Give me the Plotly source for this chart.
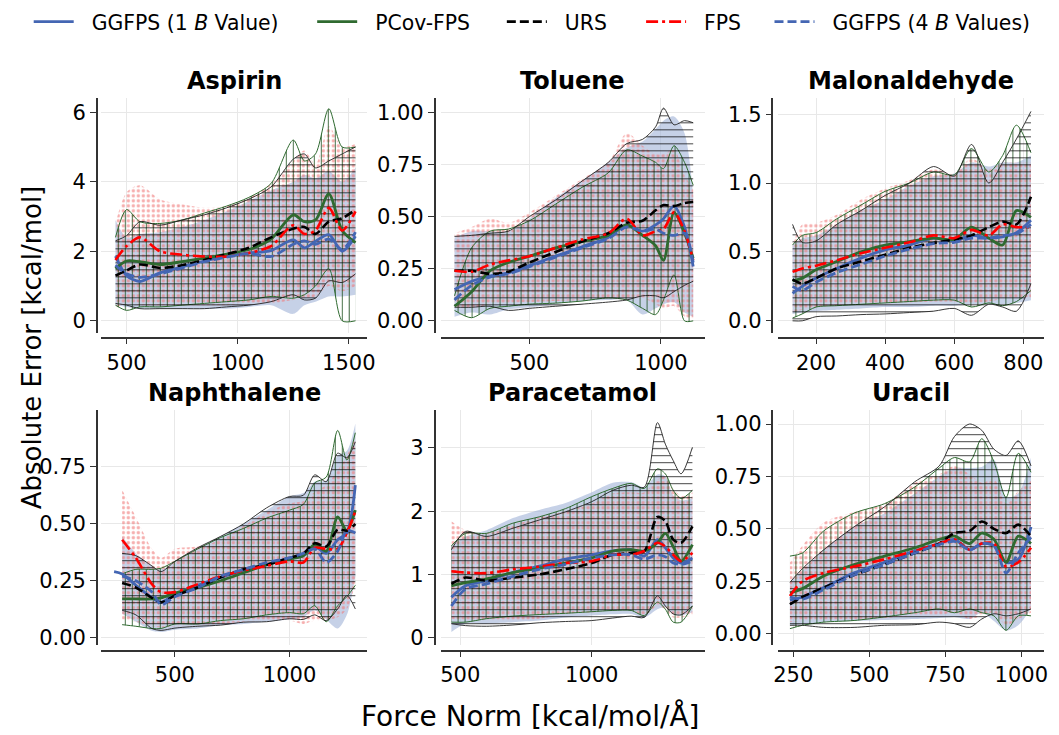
import plotly.graph_objects as go

# ---------------- data ----------------
ASP_X = [450, 500, 560, 650, 750, 850, 950, 1050, 1150, 1250, 1300, 1350, 1410, 1470, 1530]
ASP_GG1 = [1.86, 1.3, 1.13, 1.38, 1.55, 1.72, 1.85, 1.95, 2.02, 2.33, 2.1, 2.29, 2.48, 2.0, 2.43]
ASP_GG4 = [1.6, 1.35, 1.25, 1.35, 1.52, 1.7, 1.83, 1.93, 1.85, 2.2, 2.3, 2.2, 2.35, 2.05, 2.55]
ASP_PCOV = [1.5, 1.72, 1.7, 1.62, 1.7, 1.8, 1.92, 2.05, 2.35, 3.05, 2.85, 2.9, 3.65, 2.6, 2.25]
ASP_URS = [1.3, 1.45, 1.62, 1.52, 1.6, 1.75, 1.92, 2.1, 2.4, 2.65, 2.7, 2.5, 2.85, 2.95, 3.2]
ASP_FPS = [1.75, 2.15, 2.4, 2.0, 1.9, 1.85, 1.85, 1.95, 2.15, 2.75, 2.5, 2.6, 3.25, 2.6, 3.15]
ASP_GG1_HI = [2.9, 2.4, 2.5, 2.55, 2.7, 2.9, 3.15, 3.45, 3.75, 4.0, 4.2, 4.1, 4.3, 4.0, 4.4]
ASP_GG1_LO = [0.45, 0.4, 0.35, 0.35, 0.35, 0.35, 0.35, 0.4, 0.45, 0.2, 0.45, 0.55, 0.7, 0.7, 0.75]
ASP_FPS_HI = [2.8, 3.7, 3.9, 3.5, 3.35, 3.25, 3.3, 3.55, 3.95, 4.6, 4.9, 4.5, 5.6, 5.0, 5.1]
ASP_FPS_LO = [0.35, 0.5, 0.45, 0.45, 0.45, 0.45, 0.45, 0.5, 0.5, 0.6, 0.65, 0.7, 1.0, 0.85, 1.0]
ASP_PCOV_HI = [2.4, 3.2, 2.85, 2.8, 2.9, 3.1, 3.3, 3.55, 3.95, 5.2, 4.6, 4.8, 6.1, 5.0, 5.0]
ASP_PCOV_LO = [0.45, 0.3, 0.4, 0.4, 0.45, 0.5, 0.55, 0.6, 0.7, 0.65, 0.75, 1.0, 1.5, 0.0, 0.0]
ASP_URS_HI = [2.3, 2.45, 2.85, 2.75, 2.9, 3.05, 3.25, 3.5, 3.85, 4.65, 4.8, 4.4, 4.6, 4.8, 5.0]
ASP_URS_LO = [0.5, 0.45, 0.35, 0.35, 0.35, 0.35, 0.4, 0.45, 0.55, 0.75, 0.6, 0.65, 1.15, 1.1, 1.35]

TOL_X = [215, 280, 350, 420, 500, 600, 700, 800, 870, 930, 980, 1010, 1050, 1090, 1123]
TOL_GG1 = [0.15, 0.19, 0.215, 0.23, 0.265, 0.31, 0.355, 0.4, 0.46, 0.43, 0.46, 0.49, 0.55, 0.45, 0.26]
TOL_GG4 = [0.1, 0.17, 0.21, 0.225, 0.26, 0.305, 0.35, 0.395, 0.45, 0.43, 0.44, 0.42, 0.41, 0.42, 0.28]
TOL_PCOV = [0.07, 0.14, 0.24, 0.28, 0.31, 0.35, 0.38, 0.41, 0.46, 0.41, 0.36, 0.29, 0.52, 0.42, 0.3]
TOL_URS = [0.24, 0.24, 0.225, 0.235, 0.28, 0.33, 0.38, 0.42, 0.47, 0.48, 0.53, 0.555, 0.55, 0.565, 0.57]
TOL_FPS = [0.24, 0.235, 0.27, 0.29, 0.31, 0.35, 0.39, 0.42, 0.49, 0.41, 0.43, 0.44, 0.52, 0.43, 0.29]
TOL_GG1_HI = [0.4, 0.43, 0.43, 0.43, 0.49, 0.59, 0.67, 0.76, 0.83, 0.86, 0.92, 0.96, 0.98, 0.9, 0.6]
TOL_GG1_LO = [0.02, 0.04, 0.03, 0.055, 0.065, 0.08, 0.095, 0.1, 0.1, 0.03, 0.06, 0.08, 0.09, 0.04, 0.02]
TOL_FPS_HI = [0.42, 0.45, 0.49, 0.47, 0.52, 0.6, 0.68, 0.76, 0.9, 0.84, 0.8, 0.8, 0.82, 0.7, 0.63]
TOL_FPS_LO = [0.06, 0.06, 0.08, 0.085, 0.09, 0.095, 0.1, 0.11, 0.1, 0.11, 0.08, 0.06, 0.07, 0.02, 0.01]
TOL_PCOV_HI = [0.12, 0.35, 0.43, 0.44, 0.48, 0.56, 0.64, 0.71, 0.82, 0.79, 0.76, 0.73, 0.84, 0.76, 0.65]
TOL_PCOV_LO = [0.05, 0.015, 0.06, 0.07, 0.08, 0.085, 0.095, 0.11, 0.1, 0.06, 0.03, 0.1, 0.22, 0.0, 0.0]
TOL_URS_HI = [0.405, 0.41, 0.42, 0.43, 0.5, 0.58, 0.67, 0.76, 0.85, 0.87, 0.93, 1.02, 0.94, 0.96, 0.95]
TOL_URS_LO = [0.065, 0.065, 0.07, 0.05, 0.06, 0.07, 0.08, 0.09, 0.1, 0.12, 0.12, 0.11, 0.14, 0.17, 0.19]

MAL_X = [132, 160, 200, 260, 330, 400, 470, 540, 600, 650, 700, 740, 780, 822]
MAL_GG1 = [0.2, 0.25, 0.31, 0.38, 0.455, 0.515, 0.55, 0.6, 0.58, 0.62, 0.6, 0.61, 0.64, 0.73]
MAL_GG4 = [0.25, 0.22, 0.28, 0.35, 0.41, 0.47, 0.52, 0.56, 0.57, 0.6, 0.6, 0.62, 0.63, 0.7]
MAL_PCOV = [0.29, 0.31, 0.37, 0.43, 0.5, 0.55, 0.575, 0.6, 0.59, 0.68, 0.6, 0.55, 0.8, 0.75]
MAL_URS = [0.3, 0.27, 0.31, 0.38, 0.43, 0.48, 0.53, 0.565, 0.59, 0.62, 0.68, 0.72, 0.7, 0.9]
MAL_FPS = [0.355, 0.38, 0.4, 0.44, 0.49, 0.53, 0.57, 0.62, 0.6, 0.66, 0.62, 0.7, 0.68, 0.68]
MAL_GG1_HI = [0.55, 0.6, 0.62, 0.7, 0.8, 0.88, 0.98, 1.05, 1.07, 1.15, 1.12, 1.15, 1.15, 1.2]
MAL_GG1_LO = [0.05, 0.06, 0.07, 0.08, 0.09, 0.1, 0.1, 0.11, 0.11, 0.12, 0.12, 0.12, 0.13, 0.15]
MAL_FPS_HI = [0.55, 0.7, 0.71, 0.77, 0.88, 0.96, 1.02, 1.1, 1.07, 1.18, 1.1, 1.15, 1.15, 1.15]
MAL_FPS_LO = [0.06, 0.08, 0.1, 0.11, 0.12, 0.12, 0.13, 0.14, 0.14, 0.13, 0.14, 0.16, 0.17, 0.17]
MAL_PCOV_HI = [0.55, 0.62, 0.64, 0.74, 0.84, 0.94, 1.0, 1.08, 1.06, 1.25, 1.08, 1.2, 1.42, 1.22]
MAL_PCOV_LO = [0.02, 0.05, 0.1, 0.11, 0.12, 0.13, 0.14, 0.15, 0.15, 0.1, 0.13, 0.11, 0.14, 0.22]
MAL_URS_HI = [0.7, 0.57, 0.58, 0.7, 0.8, 0.91, 1.0, 1.12, 1.05, 1.28, 1.0, 1.15, 1.32, 1.52]
MAL_URS_LO = [0.0, 0.0, 0.03, 0.035, 0.045, 0.05, 0.06, 0.07, 0.09, 0.04, 0.12, 0.1, 0.07, 0.27]

NAP_X = [235, 270, 330, 400, 440, 500, 600, 700, 800, 900, 1000, 1060, 1110, 1160, 1210, 1250, 1287]
NAP_GG1 = [0.29, 0.28, 0.23, 0.175, 0.155, 0.19, 0.23, 0.265, 0.295, 0.32, 0.35, 0.36, 0.4, 0.37, 0.43, 0.46, 0.67]
NAP_GG4 = [None, 0.27, 0.25, 0.2, 0.145, 0.18, 0.22, 0.27, 0.3, 0.33, 0.35, 0.37, 0.39, 0.33, 0.38, 0.47, 0.46]
NAP_PCOV = [None, 0.17, 0.17, 0.17, 0.175, 0.195, 0.22, 0.25, 0.285, 0.32, 0.345, 0.36, 0.41, 0.38, 0.53, 0.47, 0.56]
NAP_URS = [None, 0.24, 0.22, 0.175, 0.155, 0.185, 0.22, 0.265, 0.3, 0.32, 0.35, 0.37, 0.415, 0.4, 0.475, 0.47, 0.5]
NAP_FPS = [None, 0.43, 0.35, 0.235, 0.2, 0.2, 0.235, 0.27, 0.295, 0.315, 0.335, 0.33, 0.395, 0.39, 0.39, 0.46, 0.555]
NAP_GG1_HI = [None, 0.445, 0.37, 0.315, 0.3, 0.33, 0.39, 0.445, 0.5, 0.56, 0.62, 0.635, 0.685, 0.69, 0.8, 0.82, 0.94]
NAP_GG1_LO = [None, 0.105, 0.07, 0.03, 0.025, 0.035, 0.04, 0.055, 0.06, 0.07, 0.08, 0.09, 0.12, 0.08, 0.04, 0.1, 0.27]
NAP_FPS_HI = [None, 0.65, 0.53, 0.39, 0.35, 0.39, 0.4, 0.43, 0.49, 0.55, 0.59, 0.6, 0.64, 0.67, 0.735, 0.8, 0.88]
NAP_FPS_LO = [None, 0.08, 0.07, 0.05, 0.045, 0.05, 0.05, 0.06, 0.07, 0.075, 0.075, 0.06, 0.075, 0.075, 0.09, 0.125, 0.24]
NAP_PCOV_HI = [None, 0.28, 0.3, 0.3, 0.305, 0.335, 0.39, 0.44, 0.48, 0.525, 0.56, 0.585, 0.68, 0.705, 0.91, 0.78, 0.9]
NAP_PCOV_LO = [None, 0.057, 0.05, 0.04, 0.04, 0.06, 0.06, 0.075, 0.083, 0.1, 0.11, 0.105, 0.14, 0.07, 0.14, 0.18, 0.23]
NAP_URS_HI = [None, 0.37, 0.36, 0.315, 0.29, 0.335, 0.395, 0.445, 0.5, 0.57, 0.62, 0.625, 0.715, 0.685, 0.81, 0.79, 0.86]
NAP_URS_LO = [None, 0.12, 0.1, 0.04, 0.032, 0.042, 0.05, 0.055, 0.068, 0.07, 0.083, 0.08, 0.1, 0.075, 0.126, 0.185, 0.126]

PAR_X = [466, 520, 600, 700, 800, 900, 1000, 1080, 1150, 1200, 1250, 1280, 1310, 1340, 1383]
PAR_GG1 = [0.64, 0.82, 0.9, 1.03, 1.13, 1.24, 1.31, 1.37, 1.39, 1.29, 1.55, 1.42, 1.26, 1.18, 1.26]
PAR_GG4 = [0.5, 0.77, 0.85, 0.97, 1.08, 1.16, 1.26, 1.31, 1.31, 1.24, 1.31, 1.28, 1.18, 1.16, 1.21]
PAR_PCOV = [0.82, 0.87, 0.93, 1.03, 1.1, 1.18, 1.26, 1.37, 1.39, 1.37, 1.5, 1.65, 1.44, 1.21, 1.47]
PAR_URS = [0.85, 0.95, 0.9, 0.95, 1.0, 1.08, 1.18, 1.31, 1.34, 1.37, 1.91, 1.84, 1.55, 1.5, 1.76]
PAR_FPS = [1.05, 1.03, 1.02, 1.08, 1.12, 1.18, 1.21, 1.31, 1.31, 1.37, 1.5, 1.44, 1.31, 1.21, 1.34]
PAR_GG1_HI = [1.45, 1.6, 1.7, 1.89, 2.02, 2.13, 2.3, 2.45, 2.46, 2.38, 2.58, 2.55, 2.25, 2.17, 2.2]
PAR_GG1_LO = [0.09, 0.22, 0.22, 0.245, 0.27, 0.32, 0.35, 0.37, 0.375, 0.32, 0.45, 0.48, 0.37, 0.35, 0.4]
PAR_FPS_HI = [1.84, 1.7, 1.65, 1.78, 1.9, 2.0, 2.12, 2.28, 2.3, 2.3, 2.5, 2.55, 2.35, 2.25, 2.3]
PAR_FPS_LO = [0.3, 0.27, 0.27, 0.27, 0.3, 0.375, 0.4, 0.43, 0.43, 0.35, 0.5, 0.45, 0.32, 0.32, 0.35]
PAR_PCOV_HI = [1.45, 1.65, 1.65, 1.81, 1.91, 2.04, 2.23, 2.36, 2.44, 2.36, 2.67, 2.59, 2.33, 2.2, 2.33]
PAR_PCOV_LO = [0.245, 0.245, 0.3, 0.34, 0.365, 0.385, 0.41, 0.43, 0.43, 0.35, 0.56, 0.45, 0.245, 0.245, 0.5]
PAR_URS_HI = [1.39, 1.68, 1.6, 1.73, 1.86, 1.99, 2.15, 2.33, 2.41, 2.38, 3.4, 3.06, 2.8, 2.59, 3.01]
PAR_URS_LO = [0.22, 0.19, 0.18, 0.2, 0.235, 0.255, 0.27, 0.31, 0.34, 0.32, 0.66, 0.5, 0.375, 0.36, 0.5]

URA_X = [239, 280, 350, 450, 550, 650, 730, 780, 830, 870, 910, 950, 990, 1032]
URA_GG1 = [0.16, 0.175, 0.22, 0.29, 0.34, 0.395, 0.43, 0.45, 0.4, 0.43, 0.42, 0.34, 0.355, 0.51]
URA_GG4 = [0.175, 0.165, 0.21, 0.28, 0.33, 0.385, 0.425, 0.44, 0.4, 0.43, 0.42, 0.29, 0.385, 0.46]
URA_PCOV = [0.195, 0.215, 0.275, 0.33, 0.37, 0.41, 0.45, 0.465, 0.43, 0.48, 0.45, 0.34, 0.465, 0.43]
URA_URS = [0.14, 0.175, 0.22, 0.28, 0.33, 0.385, 0.43, 0.48, 0.49, 0.535, 0.5, 0.48, 0.52, 0.465]
URA_FPS = [0.18, 0.25, 0.29, 0.32, 0.355, 0.395, 0.43, 0.45, 0.4, 0.43, 0.43, 0.32, 0.34, 0.41]
URA_GG1_HI = [0.245, 0.3, 0.4, 0.51, 0.575, 0.67, 0.75, 0.79, 0.79, 0.795, 0.83, 0.65, 0.67, 0.84]
URA_GG1_LO = [0.04, 0.045, 0.055, 0.06, 0.065, 0.07, 0.075, 0.08, 0.07, 0.1, 0.06, 0.015, 0.04, 0.12]
URA_FPS_HI = [0.34, 0.42, 0.53, 0.58, 0.62, 0.72, 0.76, 0.8, 0.76, 0.72, 0.74, 0.62, 0.68, 0.73]
URA_FPS_LO = [0.055, 0.06, 0.065, 0.07, 0.075, 0.085, 0.09, 0.1, 0.07, 0.085, 0.1, 0.04, 0.07, 0.1]
URA_PCOV_HI = [0.37, 0.385, 0.49, 0.575, 0.62, 0.7, 0.79, 0.84, 0.82, 0.93, 0.82, 0.65, 0.86, 0.77]
URA_PCOV_LO = [0.024, 0.04, 0.055, 0.063, 0.08, 0.1, 0.118, 0.1, 0.118, 0.1, 0.085, 0.016, 0.085, 0.085]
URA_URS_HI = [0.245, 0.31, 0.4, 0.51, 0.605, 0.725, 0.8, 0.94, 1.0, 0.97, 0.88, 0.85, 0.92, 0.8]
URA_URS_LO = [0.04, 0.04, 0.03, 0.03, 0.04, 0.043, 0.055, 0.048, 0.03, 0.07, 0.095, 0.085, 0.095, 0.118]

TITLES = ["Aspirin", "Toluene", "Malonaldehyde", "Naphthalene", "Paracetamol", "Uracil"]
SERIES_NAMES = ["GGFPS (1 <i>B</i> Value)", "PCov-FPS", "URS", "FPS", "GGFPS (4 <i>B</i> Values)"]
X_TICKS = [[500, 1000, 1500], [500, 1000], [200, 400, 600, 800],
           [500, 1000], [500, 1000], [250, 500, 750, 1000]]
Y_TICKS = [[0, 2, 4, 6], [0, 0.25, 0.5, 0.75, 1.0], [0, 0.5, 1.0, 1.5],
           [0, 0.25, 0.5, 0.75], [0, 1, 2, 3], [0, 0.25, 0.5, 0.75, 1.0]]
Y_FMT = ["d", ".2f", ".1f", ".2f", "d", ".2f"]

PANELS = [
    (ASP_X, ASP_GG1, ASP_GG4, ASP_PCOV, ASP_URS, ASP_FPS, ASP_GG1_LO, ASP_GG1_HI,
     ASP_FPS_LO, ASP_FPS_HI, ASP_PCOV_LO, ASP_PCOV_HI, ASP_URS_LO, ASP_URS_HI),
    (TOL_X, TOL_GG1, TOL_GG4, TOL_PCOV, TOL_URS, TOL_FPS, TOL_GG1_LO, TOL_GG1_HI,
     TOL_FPS_LO, TOL_FPS_HI, TOL_PCOV_LO, TOL_PCOV_HI, TOL_URS_LO, TOL_URS_HI),
    (MAL_X, MAL_GG1, MAL_GG4, MAL_PCOV, MAL_URS, MAL_FPS, MAL_GG1_LO, MAL_GG1_HI,
     MAL_FPS_LO, MAL_FPS_HI, MAL_PCOV_LO, MAL_PCOV_HI, MAL_URS_LO, MAL_URS_HI),
    (NAP_X, NAP_GG1, NAP_GG4, NAP_PCOV, NAP_URS, NAP_FPS, NAP_GG1_LO, NAP_GG1_HI,
     NAP_FPS_LO, NAP_FPS_HI, NAP_PCOV_LO, NAP_PCOV_HI, NAP_URS_LO, NAP_URS_HI),
    (PAR_X, PAR_GG1, PAR_GG4, PAR_PCOV, PAR_URS, PAR_FPS, PAR_GG1_LO, PAR_GG1_HI,
     PAR_FPS_LO, PAR_FPS_HI, PAR_PCOV_LO, PAR_PCOV_HI, PAR_URS_LO, PAR_URS_HI),
    (URA_X, URA_GG1, URA_GG4, URA_PCOV, URA_URS, URA_FPS, URA_GG1_LO, URA_GG1_HI,
     URA_FPS_LO, URA_FPS_HI, URA_PCOV_LO, URA_PCOV_HI, URA_URS_LO, URA_URS_HI),
]

# ---------------- layout geometry ----------------
W, H = 1059, 735
FONT = "DejaVu Sans"
COLS = [(97, 367, 93), (441, 709, 435), (783, 1052, 777)]   # x0, x1, y-axis line px
ROWS = [(99, 335, 340), (413, 649, 655)]                      # y0, y1, x-axis line px (top-down)
X_RANGES = [[384, 1584], [162, 1169], [91, 860], [177, 1340], [425, 1432], [201, 1075]]
Y_RANGES = [[-0.343, 6.4], [-0.057, 1.067], [-0.0865, 1.615], [-0.0305, 0.999],
            [-0.11, 3.597], [-0.052, 1.066]]
TITLE_Y = [82, 396]

BLUE = "#4466b3"
GREEN = "#2f6a30"
RED = "#ff0000"

fig = go.Figure()


def clean(x, y):
    pairs = [(a, b) for a, b in zip(x, y) if b is not None]
    return [p[0] for p in pairs], [p[1] for p in pairs]


def add_band(i, x, lo, hi, fillcolor, pattern, edge, edgew):
    xa = "x" if i == 0 else f"x{i+1}"
    ya = "y" if i == 0 else f"y{i+1}"
    xl, yl = clean(x, lo)
    xh, yh = clean(x, hi)
    lc = edge if edge else "rgba(0,0,0,0)"
    lw = edgew if edge else 0
    fig.add_trace(go.Scatter(x=xl, y=yl, mode="lines", xaxis=xa, yaxis=ya,
                             line=dict(color=lc, width=lw, shape="spline", smoothing=0.8),
                             showlegend=False, hoverinfo="skip"))
    kw = dict(fill="tonexty", fillcolor=fillcolor)
    if pattern is not None:
        kw["fillpattern"] = pattern
    fig.add_trace(go.Scatter(x=xh, y=yh, mode="lines", xaxis=xa, yaxis=ya,
                             line=dict(color=lc, width=lw, shape="spline", smoothing=0.8),
                             showlegend=False, hoverinfo="skip", **kw))


LINE_STYLES = [
    dict(color=BLUE, width=2.8, dash="solid"),
    dict(color=GREEN, width=2.8, dash="solid"),
    dict(color="black", width=2.6, dash="9px,4px"),
    dict(color=RED, width=2.6, dash="12px,4px,3px,4px"),
    dict(color=BLUE, width=2.8, dash="9px,4px"),
]

for i, p in enumerate(PANELS):
    (x, gg1, gg4, pcov, urs, fps, gg1_lo, gg1_hi, fps_lo, fps_hi,
     pcov_lo, pcov_hi, urs_lo, urs_hi) = p
    add_band(i, x, gg1_lo, gg1_hi, "rgba(160,178,215,0.6)", None, None, 0)
    add_band(i, x, fps_lo, fps_hi, "rgba(0,0,0,0)",
             dict(shape=".", size=5, solidity=0.35, fgcolor="#f07878", fgopacity=0.6,
                  bgcolor="rgba(0,0,0,0)", fillmode="replace"), None, 0)
    add_band(i, x, pcov_lo, pcov_hi, "rgba(0,0,0,0)",
             dict(shape="|", size=7, solidity=1 / 7, fgcolor="#1d4f1d", fgopacity=0.8,
                  bgcolor="rgba(0,0,0,0)", fillmode="replace"), GREEN, 1.0)
    add_band(i, x, urs_lo, urs_hi, "rgba(0,0,0,0)",
             dict(shape="-", size=7, solidity=1 / 7, fgcolor="#000000", fgopacity=0.72,
                  bgcolor="rgba(0,0,0,0)", fillmode="replace"), "#222222", 0.9)
    xa = "x" if i == 0 else f"x{i+1}"
    ya = "y" if i == 0 else f"y{i+1}"
    for k, ys in enumerate([gg1, pcov, urs, fps, gg4]):
        xs, yv = clean(x, ys)
        lg = "legend" if k == 0 else f"legend{k+1}"
        fig.add_trace(go.Scatter(x=xs, y=yv, mode="lines", xaxis=xa, yaxis=ya,
                                 line=dict(shape="spline", smoothing=0.8, **LINE_STYLES[k]),
                                 name="\u00a0\u00a0" + SERIES_NAMES[k], showlegend=(i == 0),
                                 legend=lg, hoverinfo="skip"))

layout = dict(width=W, height=H, margin=dict(l=0, r=0, t=0, b=0),
              paper_bgcolor="white", plot_bgcolor="white",
              font=dict(family=FONT, size=21, color="black"))

annotations = []
for i in range(6):
    r, c = divmod(i, 3)
    x0, x1, ylinepx = COLS[c]
    y0, y1, xlinepx = ROWS[r]
    sx = "" if i == 0 else str(i + 1)
    layout["xaxis" + sx] = dict(
        domain=[x0 / W, x1 / W], anchor="free", position=1 - xlinepx / H,
        range=X_RANGES[i], tickvals=X_TICKS[i], showgrid=True, gridcolor="#e8e8e8",
        gridwidth=1, zeroline=False, showline=True, linecolor="#333333", linewidth=1.5,
        ticks="outside", ticklen=6, tickwidth=1.4, tickcolor="#333333",
        tickfont=dict(family=FONT, size=21, color="black"))
    layout["yaxis" + sx] = dict(
        domain=[1 - y1 / H, 1 - y0 / H], anchor="free", position=ylinepx / W,
        range=Y_RANGES[i], tickvals=Y_TICKS[i], tickformat=Y_FMT[i], showgrid=True,
        gridcolor="#e8e8e8", gridwidth=1, zeroline=False, showline=True,
        linecolor="#333333", linewidth=1.5, ticks="outside", ticklen=6, tickwidth=1.4,
        tickcolor="#333333", tickfont=dict(family=FONT, size=21, color="black"))
    annotations.append(dict(text="<b>" + TITLES[i] + "</b>", x=(x0 + x1) / 2 / W,
                            y=1 - TITLE_Y[r] / H, xref="paper", yref="paper",
                            xanchor="center", yanchor="middle", showarrow=False,
                            font=dict(family=FONT, size=24, color="black")))

annotations.append(dict(text="Absolute Error [kcal/mol]", x=27 / W, y=1 - 350 / H,
                        xref="paper", yref="paper", textangle=-90, showarrow=False,
                        xanchor="center", yanchor="middle",
                        font=dict(family=FONT, size=26, color="black")))
annotations.append(dict(text="Force Norm [kcal/mol/Å]", x=532 / W, y=1 - 721 / H,
                        xref="paper", yref="paper", showarrow=False,
                        xanchor="center", yanchor="middle",
                        font=dict(family=FONT, size=28, color="black")))
layout["annotations"] = annotations

LEG_X = [35, 322, 514, 655, 785]
for k, lx in enumerate(LEG_X):
    key = "legend" if k == 0 else f"legend{k+1}"
    layout[key] = dict(x=(lx - 11) / W, y=1 - 22 / H, xanchor="left", yanchor="middle",
                       orientation="h", bgcolor="rgba(0,0,0,0)", borderwidth=0,
                       itemwidth=40, font=dict(family=FONT, size=20.4, color="black"))

fig.update_layout(**layout)
fig.write_html("out.html")
